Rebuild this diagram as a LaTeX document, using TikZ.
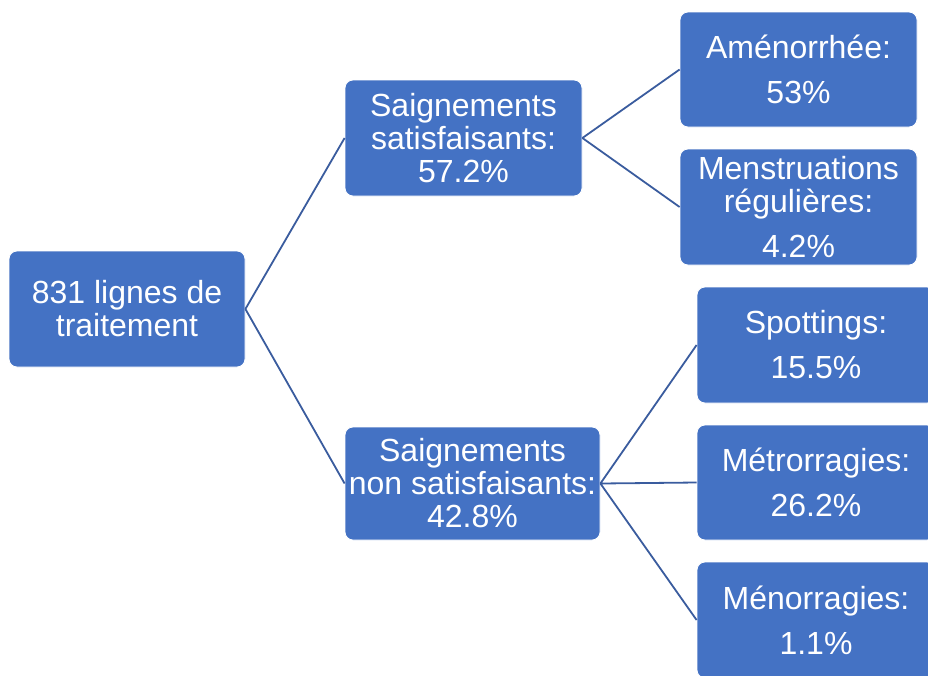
\documentclass[tikz,border=0pt]{standalone}
\usepackage{fontspec}
\setmainfont{Liberation Sans}
\usetikzlibrary{positioning}
\definecolor{boxblue}{HTML}{4472C4}
\definecolor{linkblue}{HTML}{3A5C9E}

\begin{document}
\begin{tikzpicture}[x=1pt,y=-1pt,
	box/.style={rectangle,rounded corners=8pt,fill=boxblue,draw=white,line width=0.8pt,
		text=white,align=center,inner sep=0pt,minimum height=116pt,
		font=\fontsize{32}{33}\selectfont},
	link/.style={draw=linkblue,line width=1.8pt}]
	\useasboundingbox (0,0) rectangle (928,675);
	\node [box,minimum width=236pt] (root) at (127,309) {831 lignes de\\traitement};
	\node [box,minimum width=237pt] (sat) at (463.5,138) {Saignements\\satisfaisants:\\57.2\%};
	\node [box,minimum width=255pt,minimum height=113pt] (nsat) at (472.5,483.5) {Saignements\\non satisfaisants:\\42.8\%};
	\node [box,minimum width=237pt,minimum height=115pt] (amen) at (798.5,69.5) {Aménorrhée:\\[12pt]53\%};
	\node [box,minimum width=237pt] (mens) at (798.5,207) {Menstruations\\régulières:\\[12pt]4.2\%};
	\node [box,minimum width=238pt] (spot) at (816,345) {Spottings:\\[12pt]15.5\%};
	\node [box,minimum width=238pt,minimum height=115pt] (metr) at (816,482.5) {Métrorragies:\\[12pt]26.2\%};
	\node [box,minimum width=238pt] (meno) at (816,620) {Ménorragies:\\[12pt]1.1\%};
	\path [link] (root.east) -- (sat.west)
		(root.east) -- (nsat.west)
		(sat.east) -- (amen.west)
		(sat.east) -- (mens.west)
		(nsat.east) -- (spot.west)
		(nsat.east) -- (metr.west)
		(nsat.east) -- (meno.west);
\end{tikzpicture}
\end{document}
